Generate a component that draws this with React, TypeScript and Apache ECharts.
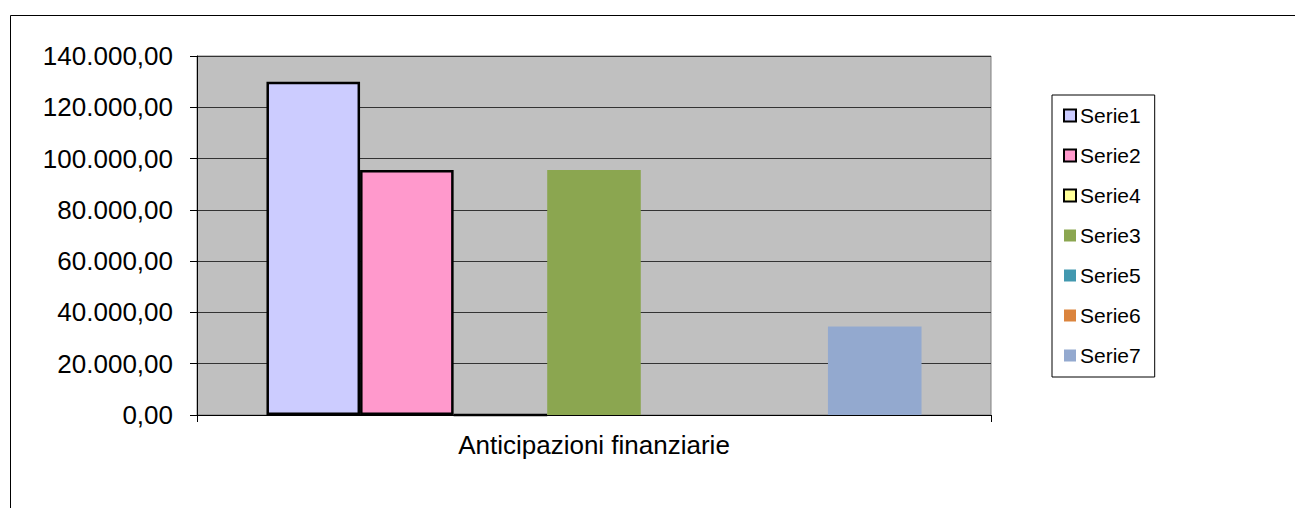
import React, { useEffect, useRef } from "react";
import * as echarts from "echarts";

const categories = ["Anticipazioni finanziarie"];
const seriesNames = ["Serie1", "Serie2", "Serie4", "Serie3", "Serie5", "Serie6", "Serie7"];
const serie1 = [130000];
const serie2 = [95500];
const serie4 = [0];
const serie3 = [95500];
const serie5 = [0];
const serie6 = [0];
const serie7 = [34500];
const seriesValues = [serie1, serie2, serie4, serie3, serie5, serie6, serie7];
const seriesColors = ["#CCCCFF", "#FF99CC", "#FFFF99", "#8BA650", "#4298AF", "#DB843D", "#93A9CF"];
const seriesBordered = [true, true, true, false, false, false, false];
const yMin = 0;
const yMax = 140000;
const yStep = 20000;

const FONT = "'Liberation Sans', Arial, sans-serif";

function fmtIt(v: number): string {
  const neg = v < 0;
  const abs = Math.abs(v);
  const intPart = Math.floor(abs);
  const dec = Math.round((abs - intPart) * 100);
  const s = String(intPart).replace(/\B(?=(\d{3})+(?!\d))/g, ".");
  return (neg ? "-" : "") + s + "," + String(dec).padStart(2, "0");
}

export default function App() {
  const ref = useRef<HTMLDivElement>(null);
  useEffect(() => {
    if (!ref.current) return;
    const chart = echarts.init(ref.current, undefined, { renderer: "svg" });
    chart.setOption({
      animation: false,
      backgroundColor: "#ffffff",
      textStyle: { fontFamily: FONT },
      graphic: [
        {
          type: "rect",
          silent: true,
          z: -1,
          shape: { x: 10.5, y: 15.5, width: 1400, height: 700 },
          style: { fill: "none", stroke: "#000", lineWidth: 1 },
        },
      ],
      grid: {
        left: 197,
        top: 56,
        right: 1295 - 991,
        bottom: 508 - 415,
        show: true,
        backgroundColor: "#C0C0C0",
        borderColor: "#808080",
        borderWidth: 1,
      },
      legend: {
        orient: "vertical",
        left: 1052,
        top: 95,
        padding: [10, 14, 11, 11],
        itemGap: 19,
        itemWidth: 12,
        itemHeight: 12,
        icon: "rect",
        borderColor: "#000",
        borderWidth: 1,
        data: seriesNames,
        textStyle: { fontFamily: FONT, fontSize: 21, color: "#000", padding: [0, 0, 0, -1] },
      },
      xAxis: {
        type: "category",
        data: categories,
        axisLine: { lineStyle: { color: "#000", width: 1 } },
        axisTick: { show: true, length: 7, lineStyle: { color: "#000" } },
        axisLabel: { fontFamily: FONT, fontSize: 26, color: "#000", margin: 17 },
        splitLine: { show: false },
      },
      yAxis: {
        type: "value",
        min: yMin,
        max: yMax,
        interval: yStep,
        axisLine: { show: true, lineStyle: { color: "#000", width: 1 } },
        axisTick: { show: true, length: 7, lineStyle: { color: "#000" } },
        axisLabel: {
          fontFamily: FONT,
          fontSize: 26,
          color: "#000",
          margin: 24,
          formatter: (v: number) => fmtIt(v),
        },
        splitLine: { show: true, lineStyle: { color: "#333", width: 1 } },
      },
      series: seriesNames.map((name, i) => ({
        name,
        type: "bar",
        data: seriesValues[i],
        barGap: "0%",
        barCategoryGap: "17.5%",
        itemStyle: {
          color: seriesColors[i],
          borderColor: seriesBordered[i] ? "#000" : seriesColors[i],
          borderWidth: seriesBordered[i] ? 2.5 : 0,
        },
      })),
    });
    return () => chart.dispose();
  }, []);
  return (
    <div
      ref={ref}
      style={{ position: "fixed", left: 0, top: 0, width: 1295, height: 508 }}
    />
  );
}
